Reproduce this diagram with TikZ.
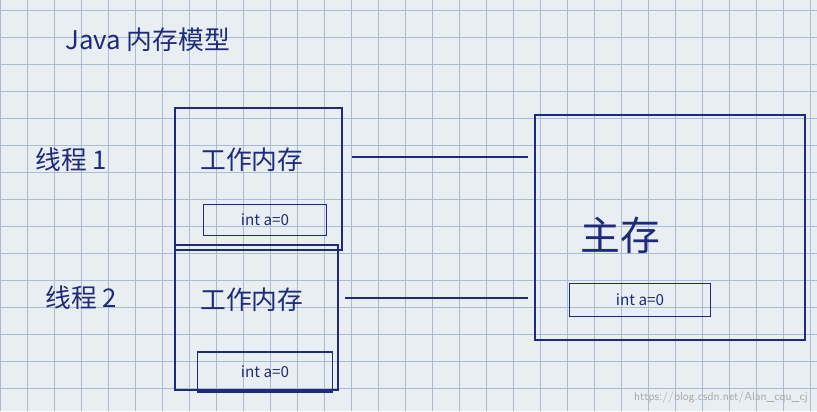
\documentclass[tikz,border=0pt]{standalone}
\usepackage{fontspec}
\newfontfamily\cjk{Noto Sans CJK SC}
\definecolor{ink}{HTML}{1F2A7A}
\definecolor{paper}{HTML}{E9EEF3}
\definecolor{gridc}{HTML}{A9BCD3}
\tikzset{pen/.style={draw=ink,line width=1.1pt},
 lbl/.style={text=ink,font=\cjk\fontsize{22}{24}\selectfont,inner sep=0pt},
 small/.style={text=ink,font=\cjk\fontsize{13}{14}\selectfont,inner sep=0pt}}
\begin{document}
\begin{tikzpicture}[x=0.03cm,y=-0.03cm]
\fill[paper] (0,0) rectangle (817,411);
\useasboundingbox (0,0) rectangle (817,411);
\foreach \x in {0,27,...,817} \draw[gridc,line width=0.6pt] (\x,0)--(\x,411);
\foreach \y in {10,37,...,411} \draw[gridc,line width=0.6pt] (0,\y)--(817,\y);
\node[lbl,anchor=west] (title) at (65,40) {Java 内存模型};
\node[lbl,anchor=west] (t1) at (35,160) {线程 1};
\node[lbl,anchor=west] (t2) at (45,298) {线程 2};
\draw[pen] (175,108) rectangle (342,250);
\draw[pen] (175,245) rectangle (338,390);
\node[lbl,anchor=west] (w1) at (200,160) {工作内存};
\node[lbl,anchor=west] (w2) at (200,300) {工作内存};
\node[small,draw=ink,line width=1.1pt,minimum width=105pt,minimum height=26pt,inner sep=2pt] (i1) at (265,220) {int a=0};
\node[small,draw=ink,line width=1.1pt,minimum width=115pt,minimum height=34pt,inner sep=2pt] (i2) at (265,372) {int a=0};
\draw[pen] (535,115) rectangle (805,340);
\node[lbl,font=\cjk\fontsize{34}{36}\selectfont] (main) at (620,235) {主存};
\node[small,draw=ink,line width=1.1pt,minimum width=120pt,minimum height=28pt,inner sep=2pt] (i3) at (640,300) {int a=0};
\coordinate (a1) at (352,157); \coordinate (b1) at (528,157);
\coordinate (a2) at (345,298); \coordinate (b2) at (528,298);
\draw[pen] (a1)--(b1); \draw[pen] (a2)--(b2);
\node[text=gray!70,font=\sffamily\fontsize{10}{12}\selectfont,anchor=east] (wm) at (812,398) {https://blog.csdn.net/Alan\_cqu\_cj};
\end{tikzpicture}
\end{document}
